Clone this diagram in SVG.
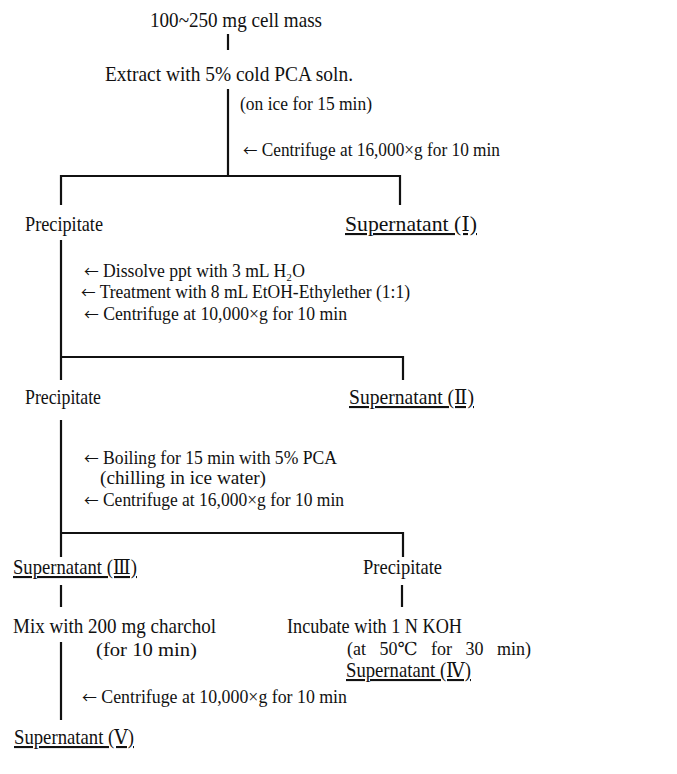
<svg xmlns="http://www.w3.org/2000/svg" width="677" height="774" viewBox="0 0 677 774">
<style>
text{font-family:"Liberation Serif","DejaVu Serif","Noto Sans CJK JP",serif;fill:#111}
.m{font-size:21px}
.s{font-size:18px}
.u{text-decoration:underline}
.a{font-family:"Noto Sans CJK JP",sans-serif;font-size:15px}
.c line{stroke:#111;stroke-width:2.2}
</style>
<rect width="677" height="774" fill="#fff"/>
<g class="c" id="connectors">
<line x1="228" y1="34" x2="228" y2="50"/>
<line x1="228" y1="89" x2="228" y2="177"/>
<line x1="60" y1="176" x2="401" y2="176"/>
<line x1="61" y1="175" x2="61" y2="205"/>
<line x1="400" y1="175" x2="400" y2="205"/>
<line x1="61" y1="240" x2="61" y2="380"/>
<line x1="60" y1="357" x2="404" y2="357"/>
<line x1="403" y1="356" x2="403" y2="380"/>
<line x1="61" y1="420" x2="61" y2="557"/>
<line x1="60" y1="533" x2="404" y2="533"/>
<line x1="403" y1="532" x2="403" y2="557"/>
<line x1="61" y1="585" x2="61" y2="607"/>
<line x1="402" y1="585" x2="402" y2="607"/>
<line x1="61" y1="642" x2="61" y2="720"/>
</g>
<g id="n1"><text class="m" x="150" y="27" textLength="172" lengthAdjust="spacingAndGlyphs">100~250 mg cell mass</text></g>
<g id="n2"><text class="m" x="105" y="81" textLength="248" lengthAdjust="spacingAndGlyphs">Extract with 5% cold PCA soln.</text>
<text class="s" x="240" y="110" textLength="132" lengthAdjust="spacingAndGlyphs">(on ice for 15 min)</text></g>
<g id="c1"><text class="s" x="243" y="156" textLength="257" lengthAdjust="spacingAndGlyphs"><tspan class="a">←</tspan> Centrifuge at 16,000×g for 10 min</text></g>
<g id="n3"><text class="m" x="25" y="231" textLength="78" lengthAdjust="spacingAndGlyphs">Precipitate</text></g>
<g id="n4"><text class="m u" x="345" y="231" textLength="132" lengthAdjust="spacingAndGlyphs">Supernatant (Ⅰ)</text></g>
<g id="c2">
<text class="s" x="84" y="277" textLength="221" lengthAdjust="spacingAndGlyphs"><tspan class="a">←</tspan> Dissolve ppt with 3 mL H₂O</text>
<text class="s" x="81" y="298" textLength="329" lengthAdjust="spacingAndGlyphs"><tspan class="a">←</tspan> Treatment with 8 mL EtOH-Ethylether (1:1)</text>
<text class="s" x="84" y="320" textLength="263" lengthAdjust="spacingAndGlyphs"><tspan class="a">←</tspan> Centrifuge at 10,000×g for 10 min</text>
</g>
<g id="n5"><text class="m" x="25" y="404" textLength="76" lengthAdjust="spacingAndGlyphs">Precipitate</text></g>
<g id="n6"><text class="m u" x="349" y="404" textLength="125" lengthAdjust="spacingAndGlyphs">Supernatant (Ⅱ)</text></g>
<g id="c3">
<text class="s" x="84" y="464" textLength="253" lengthAdjust="spacingAndGlyphs"><tspan class="a">←</tspan> Boiling for 15 min with 5% PCA</text>
<text class="s" x="100" y="484" textLength="166" lengthAdjust="spacingAndGlyphs">(chilling in ice water)</text>
<text class="s" x="84" y="506" textLength="260" lengthAdjust="spacingAndGlyphs"><tspan class="a">←</tspan> Centrifuge at 16,000×g for 10 min</text>
</g>
<g id="n7"><text class="m u" x="13" y="574" textLength="124" lengthAdjust="spacingAndGlyphs">Supernatant (Ⅲ)</text></g>
<g id="n8"><text class="m" x="363" y="574" textLength="79" lengthAdjust="spacingAndGlyphs">Precipitate</text></g>
<g id="n9"><text class="m" x="13" y="633" textLength="203" lengthAdjust="spacingAndGlyphs">Mix with 200 mg charchol</text>
<text class="s" x="96" y="656" textLength="101" lengthAdjust="spacingAndGlyphs">(for 10 min)</text></g>
<g id="n10"><text class="m" x="287" y="633" textLength="175" lengthAdjust="spacingAndGlyphs">Incubate with 1 N KOH</text>
<text class="s" x="347" y="655" word-spacing="9">(at 50℃ for 30 min)</text></g>
<g id="n11"><text class="m u" x="346" y="677" textLength="125" lengthAdjust="spacingAndGlyphs">Supernatant (Ⅳ)</text></g>
<g id="c4"><text class="s" x="82" y="703" textLength="265" lengthAdjust="spacingAndGlyphs"><tspan class="a">←</tspan> Centrifuge at 10,000×g for 10 min</text></g>
<g id="n12"><text class="m u" x="14" y="744" textLength="120" lengthAdjust="spacingAndGlyphs">Supernatant (Ⅴ)</text></g>
</svg>
